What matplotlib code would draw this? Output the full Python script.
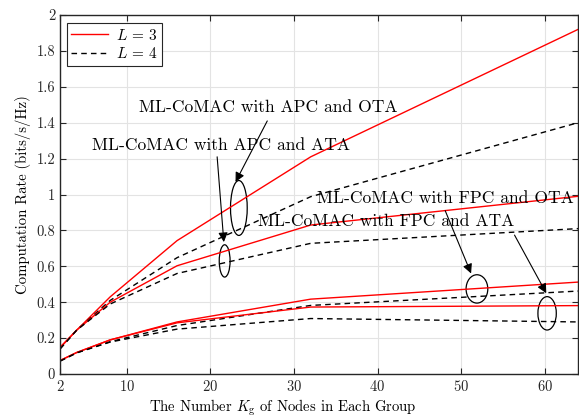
import matplotlib
matplotlib.use("Agg")
import matplotlib.pyplot as plt
from matplotlib.patches import Ellipse

plt.rcParams['font.family'] = ['cmr10', 'DejaVu Serif']
plt.rcParams['mathtext.fontset'] = 'cm'
plt.rcParams['axes.formatter.use_mathtext'] = True

kg = [2, 4, 8, 16, 32, 64]

# APC, OTA / ATA
apc_ota_l3 = [0.15, 0.245, 0.43, 0.743, 1.21, 1.92]
apc_ota_l4 = [0.14, 0.245, 0.41, 0.648, 0.988, 1.40]
apc_ata_l3 = [0.145, 0.245, 0.40, 0.603, 0.83, 0.99]
apc_ata_l4 = [0.14, 0.245, 0.39, 0.560, 0.728, 0.81]

# FPC, OTA / ATA
fpc_ota_l3 = [0.075, 0.12, 0.19, 0.29, 0.417, 0.512]
fpc_ota_l4 = [0.072, 0.118, 0.18, 0.27, 0.382, 0.462]
fpc_ata_l3 = [0.075, 0.12, 0.19, 0.285, 0.373, 0.381]
fpc_ata_l4 = [0.072, 0.118, 0.178, 0.25, 0.309, 0.29]

fig = plt.figure(figsize=(5.79, 4.18), dpi=100)
ax = fig.add_axes([0.1038, 0.1053, 0.8945, 0.8587])

red = dict(color='red', lw=1.0, ls='-')
blk = dict(color='black', lw=1.0, ls=(0, (4, 3)))

ax.plot(kg, apc_ota_l3, label=r'$L\,=\,3$', **red)
ax.plot(kg, apc_ota_l4, label=r'$L\,=\,4$', **blk)
ax.plot(kg, apc_ata_l3, **red)
ax.plot(kg, apc_ata_l4, **blk)
ax.plot(kg, fpc_ota_l3, **red)
ax.plot(kg, fpc_ota_l4, **blk)
ax.plot(kg, fpc_ata_l3, **red)
ax.plot(kg, fpc_ata_l4, **blk)

ax.set_xlim(2, 64)
ax.set_ylim(0, 2)
ax.set_xticks([2, 10, 20, 30, 40, 50, 60])
ax.set_yticks([0, 0.2, 0.4, 0.6, 0.8, 1, 1.2, 1.4, 1.6, 1.8, 2])
ax.set_yticklabels(['0', '0.2', '0.4', '0.6', '0.8', '1', '1.2', '1.4', '1.6', '1.8', '2'])
ax.grid(True, color='#e3e3e3', lw=0.8)
ax.set_axisbelow(True)
ax.tick_params(direction='in', top=True, right=True, labelsize=10.5,
               color='#262626', labelcolor='#262626', length=4)
for s in ax.spines.values():
    s.set_color('#262626')
    s.set_linewidth(1.0)

ax.set_xlabel(r'The Number $K_{\mathrm{g}}$ of Nodes in Each Group', fontsize=10.6)
ax.xaxis.set_label_coords(0.4294, -0.095, transform=ax.transAxes)
ax.xaxis.label.set_va('center')
ax.set_ylabel('Computation Rate (bits/s/Hz)', fontsize=10.6, labelpad=4)

leg = ax.legend(loc='upper left', fontsize=11, fancybox=False, edgecolor='#262626',
                framealpha=1, handlelength=2.4, handletextpad=0.5, borderpad=0.3,
                labelspacing=0.25, borderaxespad=0, bbox_to_anchor=(0.013, 0.978))
leg.get_frame().set_linewidth(0.8)

fs = 12.6
ax.text(11.5, 1.483, 'ML-CoMAC with APC and OTA', fontsize=fs, va='center')
ax.text(5.76, 1.276, 'ML-CoMAC with APC and ATA', fontsize=fs, va='center')
ax.text(32.8, 0.98, 'ML-CoMAC with FPC and OTA', fontsize=fs, va='center')
ax.text(25.7, 0.85, 'ML-CoMAC with FPC and ATA', fontsize=fs, va='center')

ells = [(23.4, 0.925, 2.0, 0.306), (21.7, 0.63, 1.3, 0.18),
        (51.9, 0.474, 2.6, 0.158), (60.3, 0.338, 2.2, 0.186)]
for cx, cy, w, h in ells:
    ax.add_patch(Ellipse((cx, cy), w, h, fill=False, ec='black', lw=0.9))

arrows = [((26.8, 1.41), (23.0, 1.07)), ((20.8, 1.21), (21.6, 0.735)),
          ((48.1, 0.91), (51.2, 0.56)), ((56.4, 0.774), (60.2, 0.45))]
for start, end in arrows:
    ax.annotate('', xy=end, xytext=start,
                arrowprops=dict(arrowstyle='-|>', color='black', lw=0.8,
                                mutation_scale=14, shrinkA=0, shrinkB=0))

fig.savefig('out.png', dpi=100)
